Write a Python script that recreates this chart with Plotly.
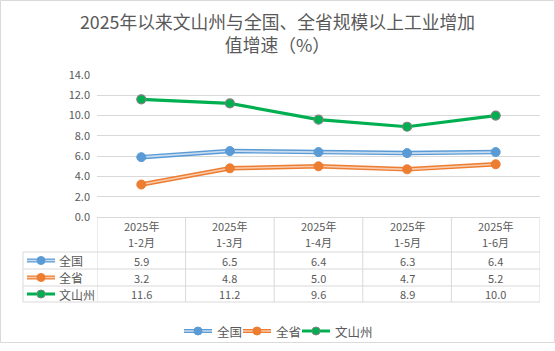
import plotly.graph_objects as go

periods = ["1-2月", "1-3月", "1-4月", "1-5月", "1-6月"]
year_label = "2025年"
series_names = ["全国", "全省", "文山州"]
nation = [5.9, 6.5, 6.4, 6.3, 6.4]
province = [3.2, 4.8, 5.0, 4.7, 5.2]
wenshan = [11.6, 11.2, 9.6, 8.9, 10.0]
y_ticks = [0, 2, 4, 6, 8, 10, 12, 14]

W, H = 555, 343
L, R, T, B = 97, 540, 75, 217
FONT = "Noto Sans CJK SC, Microsoft YaHei, sans-serif"
TXT = "#595959"
GRID = "#D9D9D9"

def py(p):
    return (B - p) / (B - T)

def px(p):
    return (p - L) / (R - L)

xs = list(range(len(periods)))
fig = go.Figure()

styles = [
    dict(outer="#5B9BD5", inner="#C9DDF1", marker="#5B9BD5", mline="#5B9BD5", double=True),
    dict(outer="#ED7D31", inner="#F8CBAD", marker="#ED7D31", mline="#ED7D31", double=True),
    dict(outer="#00B050", inner=None, marker="#00B050", mline="#7F7F7F", double=False),
]
data = [nation, province, wenshan]

for name, vals, st in zip(series_names, data, styles):
    if st["double"]:
        fig.add_trace(go.Scatter(x=xs, y=vals, mode="lines", name=name,
                                 line=dict(color=st["outer"], width=4.5),
                                 showlegend=False, hoverinfo="skip"))
        fig.add_trace(go.Scatter(x=xs, y=vals, mode="lines+markers", name=name,
                                 line=dict(color=st["inner"], width=1.6),
                                 marker=dict(size=9, color=st["marker"],
                                             line=dict(color=st["mline"], width=1)),
                                 showlegend=False))
    else:
        fig.add_trace(go.Scatter(x=xs, y=vals, mode="lines+markers", name=name,
                                 line=dict(color=st["outer"], width=3.2),
                                 marker=dict(size=9, color=st["marker"],
                                             line=dict(color=st["mline"], width=1.2)),
                                 showlegend=False))

shapes = []
annotations = []

def key(x0, yc, st):
    shapes.append(dict(type="line", xref="paper", yref="paper",
                       x0=px(x0), x1=px(x0 + 28), y0=py(yc), y1=py(yc),
                       line=dict(color=st["outer"], width=4 if st["double"] else 3)))
    if st["double"]:
        shapes.append(dict(type="line", xref="paper", yref="paper",
                           x0=px(x0), x1=px(x0 + 28), y0=py(yc), y1=py(yc),
                           line=dict(color=st["inner"], width=1.5)))
    shapes.append(dict(type="circle", xref="paper", yref="paper",
                       x0=px(x0 + 10), x1=px(x0 + 18), y0=py(yc - 4), y1=py(yc + 4),
                       fillcolor=st["marker"], line=dict(color=st["mline"], width=1)))

# data table
header_top = B
row_edges = [252, 269, 286, 302]
left_x = 23

for yp in row_edges:
    shapes.append(dict(type="line", xref="paper", yref="paper",
                       x0=px(left_x), x1=1, y0=py(yp), y1=py(yp),
                       line=dict(color=GRID, width=1)))
for i in range(len(periods) + 1):
    shapes.append(dict(type="line", xref="x", yref="paper",
                       x0=i - 0.5, x1=i - 0.5, y0=py(header_top), y1=py(row_edges[-1]),
                       line=dict(color=GRID, width=1)))
shapes.append(dict(type="line", xref="paper", yref="paper",
                   x0=px(left_x), x1=px(left_x), y0=py(row_edges[0]), y1=py(row_edges[-1]),
                   line=dict(color=GRID, width=1)))

for i, p in enumerate(periods):
    annotations.append(dict(x=i, xref="x", y=py(226), yref="paper",
                            text=year_label, showarrow=False,
                            font=dict(size=11, color=TXT, family=FONT),
                            xanchor="center", yanchor="middle"))
    annotations.append(dict(x=i, xref="x", y=py(242), yref="paper",
                            text=p, showarrow=False,
                            font=dict(size=11, color=TXT, family=FONT),
                            xanchor="center", yanchor="middle"))

for r, (name, vals, st) in enumerate(zip(series_names, data, styles)):
    yc = (row_edges[r] + row_edges[r + 1]) / 2
    for i, v in enumerate(vals):
        annotations.append(dict(x=i, xref="x", y=py(yc), yref="paper",
                                text=f"{v:.1f}", showarrow=False,
                                font=dict(size=11, color=TXT, family=FONT),
                                xanchor="center", yanchor="middle"))
    key(27, yc, st)
    annotations.append(dict(x=px(57), xref="paper", y=py(yc), yref="paper",
                            text=name, showarrow=False,
                            font=dict(size=12, color=TXT, family=FONT),
                            xanchor="left", yanchor="middle"))

# bottom legend
leg_x = 184
for name, st in zip(series_names, styles):
    key(leg_x, 331, st)
    annotations.append(dict(x=px(leg_x + 31), xref="paper", y=py(331), yref="paper",
                            text=name, showarrow=False,
                            font=dict(size=12.5, color=TXT, family=FONT),
                            xanchor="left", yanchor="middle"))
    leg_x += 31 + 12.5 * len(name) + 3

shapes.append(dict(type="rect", xref="paper", yref="paper",
                   x0=px(0.5), x1=px(554.5), y0=py(0.5), y1=py(H - 0.5),
                   line=dict(color=GRID, width=1), fillcolor="rgba(0,0,0,0)"))

fig.update_layout(
    width=W, height=H,
    margin=dict(l=L, r=W - R, t=T, b=H - B),
    paper_bgcolor="white", plot_bgcolor="white",
    title=dict(text="2025年以来文山州与全国、全省规模以上工业增加<br>值增速（%）",
               x=0.5, xref="container", xanchor="center", y=1 - 28.5 / H, yref="container",
               yanchor="middle",
               font=dict(size=17.8, color=TXT, family=FONT)),
    font=dict(family=FONT, color=TXT),
    xaxis=dict(range=[-0.5, len(periods) - 0.5], showticklabels=False, showgrid=False,
               zeroline=False, showline=False, fixedrange=True),
    yaxis=dict(range=[0, 14], tickvals=y_ticks, tickformat=".1f", showgrid=True,
               gridcolor=GRID, gridwidth=1, zeroline=True, zerolinecolor=GRID, zerolinewidth=1,
               showline=False, tickfont=dict(size=11, color=TXT, family=FONT),
               ticks="", ticklabelstandoff=6),
    showlegend=False,
    shapes=shapes, annotations=annotations,
    hovermode=False,
)

fig.write_html("out.html")
